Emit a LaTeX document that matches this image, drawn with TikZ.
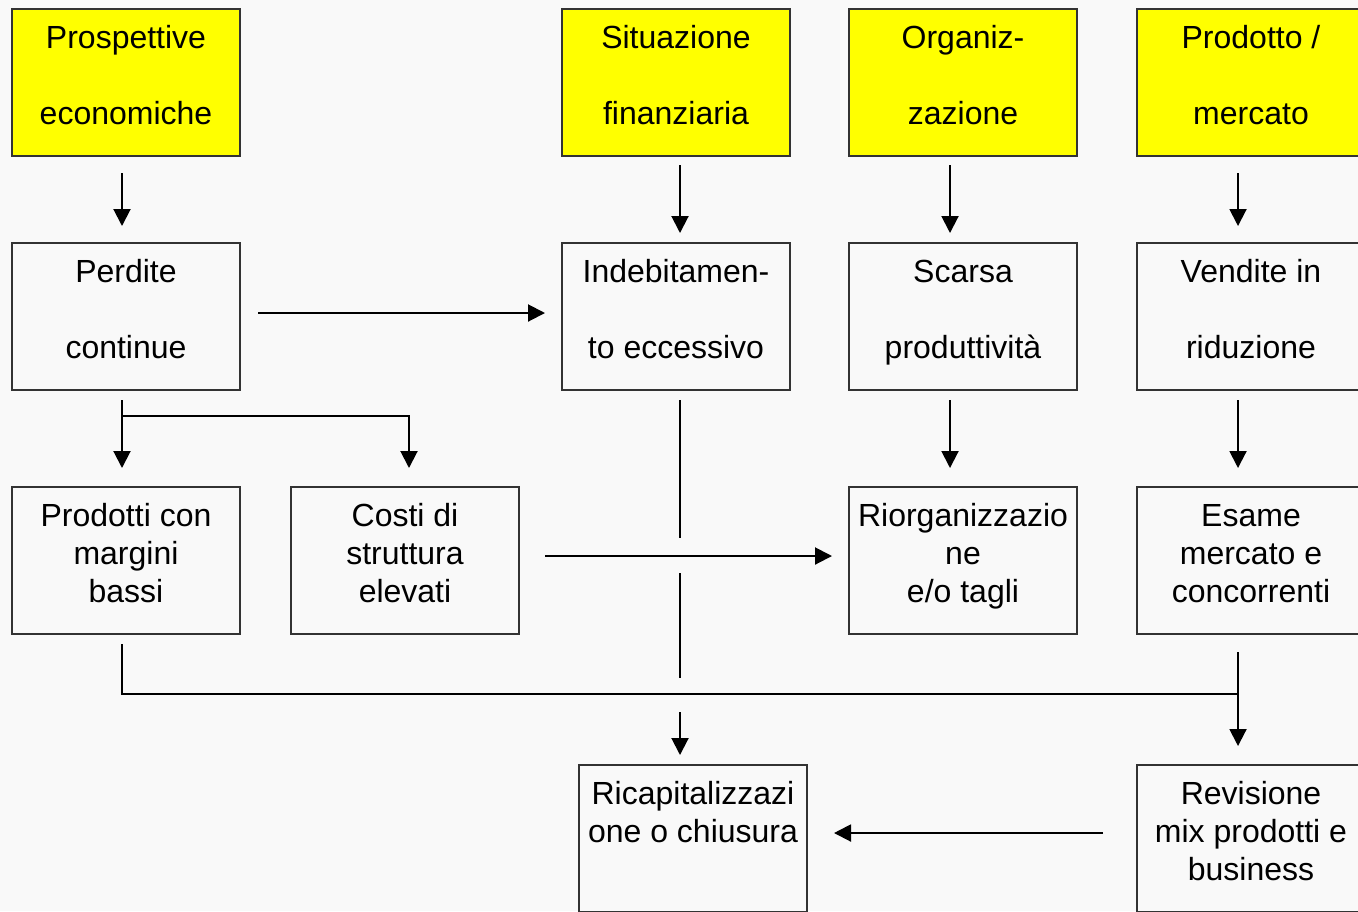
\documentclass[tikz,border=0pt]{standalone}
\usepackage{fontspec}
\setmainfont{Liberation Sans}
\usepackage{xcolor}
\usepackage{tikz}
\usetikzlibrary{arrows.meta,positioning}

\definecolor{bgpaper}{RGB}{249,249,249}
\definecolor{headyellow}{RGB}{255,255,0}
\newcommand{\boxtxt}[1]{\parbox[t][73.5pt][t]{114pt}{\centering\rule{0pt}{19.5pt}#1}}

\begin{document}
\begin{tikzpicture}[
  x=0.5pt, y=-0.5pt,
  stepbox/.style={draw=black!80, line width=0.75pt, inner sep=0pt, outer sep=0pt, font=\fontsize{16pt}{19pt}\selectfont},
  headbox/.style={stepbox, fill=headyellow},
  arr/.style={-{Triangle[length=8.5pt,width=8.5pt]}, line width=1pt},
  link/.style={line width=1pt},
]

\fill[bgpaper] (0,0) rectangle (1358,911);
\useasboundingbox (0,0) rectangle (1358,911);

% top row
\node[headbox, anchor=north west] (pe) at (12,9) {\boxtxt{Prospettive\\[19pt]economiche}};
\node[headbox, right=161pt of pe] (sf) {\boxtxt{Situazione\\[19pt]finanziaria}};
\node[headbox, right=29.5pt of sf] (org) {\boxtxt{Organiz-\\[19pt]zazione}};
\node[headbox, right=30pt of org] (pm) {\boxtxt{Prodotto /\\[19pt]mercato}};

% second row
\node[stepbox, below=43.5pt of pe] (pc) {\boxtxt{Perdite\\[19pt]continue}};
\node[stepbox, below=43.5pt of sf] (ind) {\boxtxt{Indebitamen-\\[19pt]to eccessivo}};
\node[stepbox, below=43.5pt of org] (sp) {\boxtxt{Scarsa\\[19pt]produttività}};
\node[stepbox, below=43.5pt of pm] (vr) {\boxtxt{Vendite in\\[19pt]riduzione}};

% third row
\node[stepbox, below=48.5pt of pc] (pmb) {\boxtxt{Prodotti con\\margini\\bassi}};
\node[stepbox, right=25.5pt of pmb] (csc) {\boxtxt{Costi di\\struttura\\elevati}};
\node[stepbox, below=48.5pt of sp] (rio) {\boxtxt{Riorganizzazio\\ne\\e/o tagli}};
\node[stepbox, below=48.5pt of vr] (esa) {\boxtxt{Esame\\mercato e\\concorrenti}};

% bottom row
\node[stepbox, anchor=north west] (ric) at (579,765) {\boxtxt{Ricapitalizzazi\\one o chiusura}};
\node[stepbox, below=65.5pt of esa] (rev) {\boxtxt{Revisione\\mix prodotti e\\business}};

\coordinate (cross) at (680,556);
\coordinate (busW) at (122,694);
\coordinate (busE) at (1238,694);

\draw[arr, shorten <=8.5pt, shorten >=8.5pt] ([xshift=-2pt]pe.south) -- ([xshift=-2pt]pc.north);
\draw[arr, shorten <=4.5pt, shorten >=5pt] ([xshift=2pt]sf.south) -- ([xshift=2pt]ind.north);
\draw[arr, shorten <=4.5pt, shorten >=5pt] ([xshift=-6.5pt]org.south) -- ([xshift=-6.5pt]sp.north);
\draw[arr, shorten <=8.5pt, shorten >=8.5pt] ([xshift=-6.5pt]pm.south) -- ([xshift=-6.5pt]vr.north);

\draw[arr, shorten <=9pt, shorten >=8.5pt] ([yshift=1.75pt]pc.east) -- ([yshift=1.75pt]ind.west);
\draw[arr, shorten <=5pt, shorten >=9.5pt] ([xshift=-2pt]pc.south) -- ([xshift=-2pt]pmb.north);
\draw[arr, shorten >=9.5pt] ([xshift=-2pt,yshift=-13pt]pc.south) -| ([xshift=2pt]csc.north);
\draw[arr, shorten <=5pt, shorten >=9.5pt] ([xshift=-6.5pt]sp.south) -- ([xshift=-6.5pt]rio.north);
\draw[arr, shorten <=5pt, shorten >=9.5pt] ([xshift=-6.5pt]vr.south) -- ([xshift=-6.5pt]esa.north);

\draw[arr, shorten <=13pt, shorten >=8.5pt] ([yshift=2.25pt]csc.east) -- ([yshift=2.25pt]rio.west);
\draw[link, shorten <=5pt, shorten >=9pt] ([xshift=2pt]ind.south) -- (cross);
\draw[link, shorten <=8.5pt, shorten >=8pt] (cross) -- (busW -| cross);

\draw[link, shorten <=5pt] ([xshift=-2pt]pmb.south) -- (busW) -- (busE);
\draw[arr, shorten <=9pt, shorten >=9.5pt] ([xshift=-6.5pt]esa.south) -- ([xshift=-6.5pt]rev.north);
\draw[arr, shorten <=9pt, shorten >=5pt] (busW -| cross) -- ([xshift=-6.5pt]ric.north);
\draw[arr, shorten <=17pt, shorten >=13.5pt] ([yshift=2.75pt]rev.west) -- ([yshift=2.75pt]ric.east);

\end{tikzpicture}
\end{document}
